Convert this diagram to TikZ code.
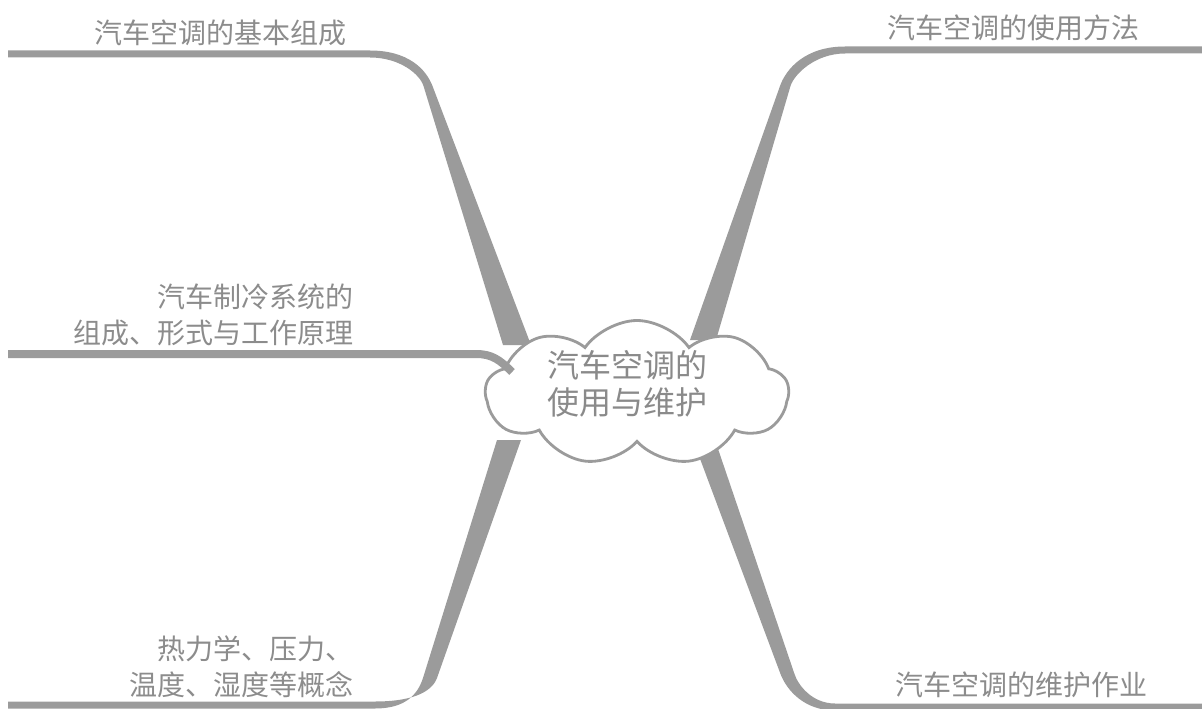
\documentclass[tikz,border=0pt]{standalone}
\usepackage{fontspec}
\newfontfamily\cjk{Noto Sans CJK SC}
\usetikzlibrary{shapes.symbols}
\definecolor{branch}{RGB}{155,155,155}
\definecolor{labelgray}{RGB}{140,140,140}
\definecolor{centergray}{RGB}{138,138,138}
\tikzset{
  limb/.style={draw=branch, line width=7pt, line cap=butt},
  wedge/.style={fill=branch, draw=none},
  lbl/.style={text=labelgray, font=\cjk\fontsize{28}{36}\selectfont, inner sep=0pt},
  lblr/.style={lbl, align=right},
  cloudbox/.style={cloud, cloud puffs=9, cloud puff arc=110, aspect=2.1, draw=branch, fill=white, line width=2.8pt, minimum width=303pt, minimum height=145pt, inner sep=0pt},
  centertext/.style={text=centergray, font=\cjk\fontsize{32}{37}\selectfont, align=center, inner sep=0pt}
}
\begin{document}
\begin{tikzpicture}[x=1pt,y=-1pt]
\useasboundingbox (0,0) rectangle (1202,709);
% free ends of the branches
\coordinate (tlA) at (8,54);
\coordinate (trA) at (1202,50);
\coordinate (mlA) at (8,354);
\coordinate (mlB) at (476,354);
\coordinate (mlC) at (512,372);
\coordinate (blA) at (8,705);
\coordinate (brA) at (1202,707);
% tapered branches (one filled outline each)
\fill[wedge] (8,50.5) -- (370,50.5) .. controls (408,50.5) and (426,69) .. (432.5,86)
  -- (531,345) -- (503,345) -- (423.5,86) .. controls (420,74.5) and (400,57.5) .. (370,57.5)
  -- (8,57.5) -- cycle;
\fill[wedge] (1202,46.5) -- (845,46.5) .. controls (805,46.5) and (786,69) .. (780,86)
  -- (690,340) -- (716,340) -- (790.5,86) .. controls (794,74.5) and (815,53.5) .. (845,53.5)
  -- (1202,53.5) -- cycle;
\fill[wedge] (8,708.5) -- (375,708.5) .. controls (405,708.5) and (417.5,695) .. (423,678)
  -- (497,440) -- (521,440) -- (437,678) .. controls (433,689) and (418,701.5) .. (375,701.5)
  -- (8,701.5) -- cycle;
\fill[wedge] (1202,710.5) -- (835,710.5) .. controls (805,710.5) and (787,691) .. (780.5,674)
  -- (693,440) -- (715,440) -- (794.5,674) .. controls (798,685) and (812,703.5) .. (835,703.5)
  -- (1202,703.5) -- cycle;
% cloud
\node[cloudbox] (c) at (637,393) {};
\draw[limb, line width=8pt] (mlA) -- (mlB) .. controls (492,354) and (500,360) .. (mlC);
\node[centertext] (t) at (627,384) {汽车空调的\\使用与维护};
% labels
\node[lbl] (l1) at (220,33) {汽车空调的基本组成};
\node[lbl] (l2) at (1013,28) {汽车空调的使用方法};
\node[lblr, anchor=east] (l3) at (354,315) {汽车制冷系统的\\组成、形式与工作原理};
\node[lblr, anchor=east] (l4) at (354,667) {热力学、压力、\\温度、湿度等概念};
\node[lbl] (l5) at (1021,685) {汽车空调的维护作业};
\end{tikzpicture}
\end{document}
